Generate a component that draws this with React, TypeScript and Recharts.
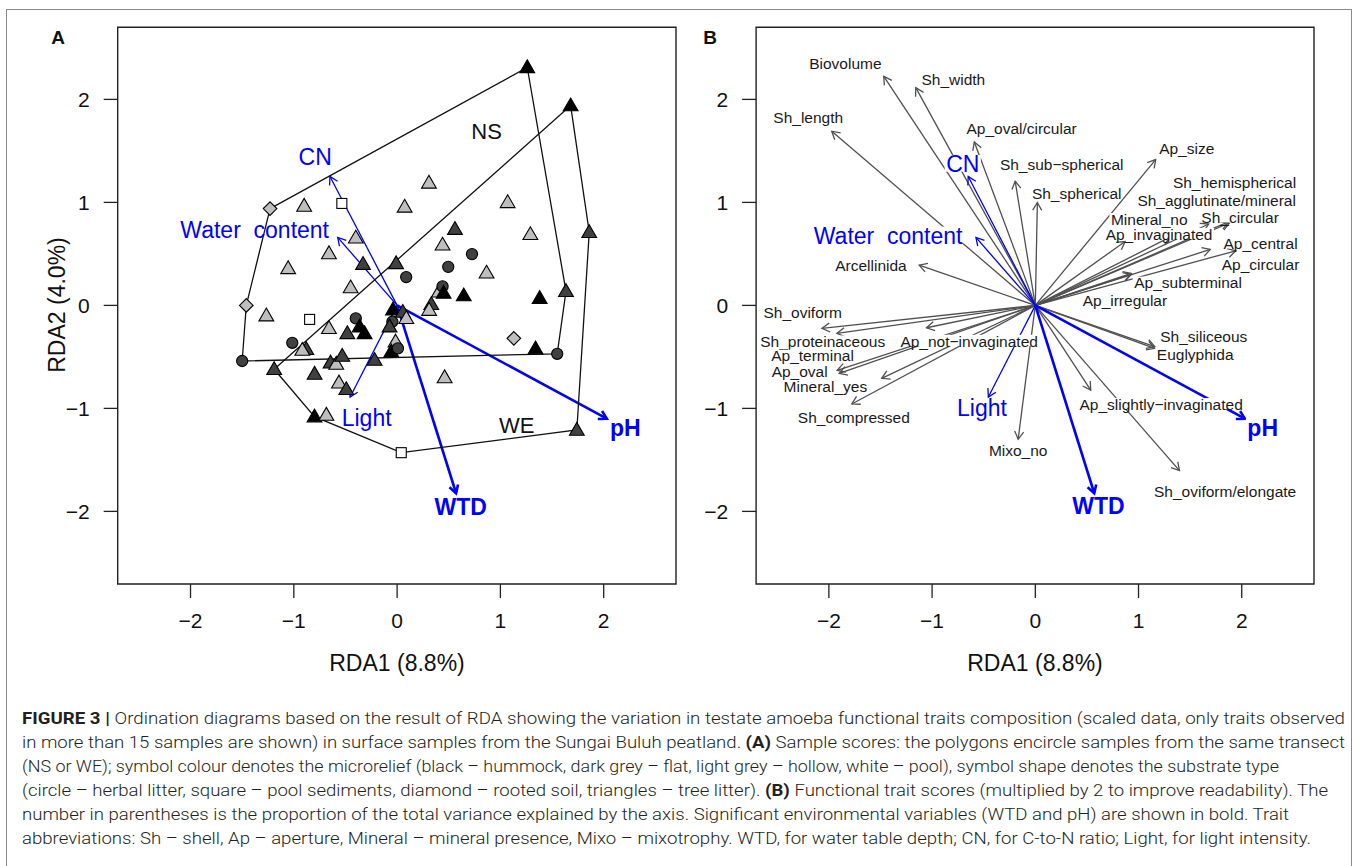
import React from 'react';
import { ScatterChart, Scatter, XAxis, YAxis, ReferenceLine, ReferenceArea } from 'recharts';

const FONT = '"Liberation Sans", Arial, Helvetica, sans-serif';
const AXIS_TICKS = [-2, -1, 0, 1, 2];
const AXIS_DOMAIN: [number, number] = [-2.705, 2.7];

// ---- panel A: sample scores (shape = substrate, relief = symbol colour) ----
const sampleX = [
  -1.23, 1.26, 1.635, 1.55, -1.5, -1.46, 1.68, 1.86, 1.74, 0.04, -0.8, -1.19,
  -0.9, -0.535, 0.073, -0.4, -0.66, -1.055, -0.33, -0.01, -0.45, 0.088, -1.266, -0.847,
  -0.4, -0.04, 0.055, -0.66, -0.482, -0.363, -0.315, -1.015, -0.879, -0.918, -0.644, -0.589,
  -0.531, -0.799, -0.218, -0.563, -0.492, -0.685, -0.046, 0.089, -0.073, -0.015, -0.056, 0.008,
  0.308, 1.07, 0.56, 0.44, 1.29, 0.725, 0.495, 0.866, 0.405, 0.44, 0.45, 0.645,
  1.38, 0.331, 0.31, 1.13, 1.34, 0.46,
];
const sampleY = [
  0.94, 2.31, 0.137, -0.47, -0.54, 0.0, 1.94, 0.71, -1.21, -1.43, -1.08, -0.62,
  0.965, 0.99, 0.956, 0.656, 0.504, 0.359, 0.4, 0.407, 0.173, 0.275, -0.1, -0.136,
  -0.126, -0.042, -0.065, -0.223, -0.272, -0.207, -0.272, -0.363, -0.427, -0.434, -0.557, -0.569,
  -0.492, -0.666, -0.531, -0.751, -0.815, -1.064, -0.159, -0.126, -0.207, -0.353, -0.45, -0.417,
  1.189, 1.0, 0.74, 0.588, 0.69, 0.498, 0.374, 0.316, 0.132, 0.185, 0.12, 0.095,
  0.07, 0.01, -0.046, -0.32, -0.42, -0.7,
];
const sampleShape = [
  'D', 'T', 'T', 'C', 'C', 'D', 'T', 'T', 'T', 'S', 'T', 'T',
  'T', 'S', 'T', 'T', 'T', 'T', 'T', 'T', 'T', 'C', 'T', 'S',
  'C', 'T', 'T', 'T', 'T', 'T', 'T', 'C', 'T', 'T', 'T', 'T',
  'T', 'T', 'T', 'T', 'T', 'T', 'C', 'T', 'T', 'T', 'T', 'C',
  'T', 'T', 'T', 'T', 'T', 'C', 'C', 'T', 'T', 'C', 'T', 'T',
  'T', 'T', 'T', 'D', 'T', 'T',
];
const sampleRelief = [
  'hollow', 'hummock', 'flat', 'flat', 'flat', 'hollow', 'hummock', 'flat', 'flat', 'pool', 'hummock', 'flat',
  'hollow', 'pool', 'hollow', 'hollow', 'hollow', 'hollow', 'flat', 'flat', 'hollow', 'flat', 'hollow', 'pool',
  'flat', 'hummock', 'flat', 'hollow', 'flat', 'hummock', 'hummock', 'flat', 'flat', 'hollow', 'flat', 'hollow',
  'flat', 'flat', 'flat', 'hollow', 'flat', 'hollow', 'flat', 'hollow', 'flat', 'hollow', 'hummock', 'flat',
  'hollow', 'hollow', 'flat', 'hollow', 'hollow', 'flat', 'flat', 'hollow', 'hollow', 'flat', 'hummock', 'hummock',
  'hummock', 'flat', 'hollow', 'hollow', 'hummock', 'hollow',
];

const nsHullX = [-1.23, 1.26, 1.635, 1.55, -1.5, -1.46, -1.23];
const nsHullY = [0.94, 2.31, 0.137, -0.47, -0.54, 0.0, 0.94];
const weHullX = [-1.19, 1.68, 1.86, 1.74, 0.04, -0.8, -1.19];
const weHullY = [-0.62, 1.94, 0.71, -1.21, -1.43, -1.08, -0.62];

const transectNames = ['NS', 'WE'];
const transectLabX = [0.866, 1.157];
const transectLabY = [1.684, -1.168];

// ---- environmental vectors ----
const envNames = ['CN', 'Water  content', 'Light', 'WTD', 'pH'];
const envX = [-0.65, -0.575, -0.455, 0.571, 2.03];
const envY = [1.252, 0.66, -0.89, -1.824, -1.1];
const envBold = [false, false, false, true, true];
const envLabAX = [-0.793, -1.379, -0.295, 0.615, 2.21];
const envLabAY = [1.441, 0.73, -1.093, -1.953, -1.19];
const envLabBX = [-0.703, -1.426, -0.517, 0.611, 2.203];
const envLabBY = [1.37, 0.675, -0.999, -1.947, -1.187];

// ---- panel B: trait scores ----
const traitNames = [
  'Biovolume', 'Sh_width', 'Sh_length', 'Ap_oval/circular', 'Sh_sub\u2212spherical', 'Sh_spherical',
  'Ap_size', 'Sh_hemispherical', 'Sh_agglutinate/mineral', 'Mineral_no', 'Sh_circular', 'Ap_invaginated',
  'Ap_central', 'Ap_circular', 'Ap_subterminal', 'Ap_irregular', 'Arcellinida', 'Sh_oviform',
  'Sh_proteinaceous', 'Ap_not\u2212invaginated', 'Ap_terminal', 'Ap_oval', 'Mineral_yes', 'Sh_compressed',
  'Mixo_no', 'Ap_slightly\u2212invaginated', 'Sh_oviform/elongate', 'Sh_siliceous', 'Euglyphida',
];
const traitX = [
  -1.468, -1.158, -1.972, -0.591, -0.195, 0.02,
  1.166, 1.88, 1.68, 1.3, 1.87, 0.87,
  1.695, 1.942, 0.93, 0.93, -1.125, -2.067,
  -1.922, -1.054, -1.92, -1.9, -1.488, -1.778,
  -0.166, 0.537, 1.397, 1.157, 1.157,
];
const traitY = [
  2.224, 2.114, 1.691, 1.587, 1.206, 0.999,
  1.416, 0.8, 0.79, 0.66, 0.81, 0.62,
  0.543, 0.53, 0.3, 0.31, 0.391, -0.223,
  -0.272, -0.217, -0.63, -0.66, -0.708, -0.957,
  -1.3, -0.822, -1.604, -0.4, -0.417,
];
const traitLabX = [
  -1.84, -0.794, -2.2, -0.133, 0.256, 0.401,
  1.467, 1.93, 1.757, 1.104, 1.984, 1.199,
  2.182, 2.182, 1.48, 0.868, -1.592, -2.254,
  -2.059, -0.641, -2.158, -2.283, -2.034, -1.758,
  -0.166, 1.219, 1.839, 1.632, 1.549,
];
const traitLabY = [
  2.347, 2.195, 1.823, 1.713, 1.37, 1.086,
  1.523, 1.189, 1.021, 0.837, 0.854, 0.692,
  0.601, 0.401, 0.219, 0.051, 0.384, -0.068,
  -0.352, -0.346, -0.49, -0.644, -0.79, -1.086,
  -1.41, -0.96, -1.808, -0.298, -0.472,
];

// ---- caption ----
const captionLines: [string, boolean][][] = [
  [['FIGURE 3 | ', true], ['Ordination diagrams based on the result of RDA showing the variation in testate amoeba functional traits composition (scaled data, only traits observed', false]],
  [['in more than 15 samples are shown) in surface samples from the Sungai Buluh peatland. ', false], ['(A)', true], [' Sample scores: the polygons encircle samples from the same transect', false]],
  [['(NS or WE); symbol colour denotes the microrelief (black \u2013 hummock, dark grey \u2013 flat, light grey \u2013 hollow, white \u2013 pool), symbol shape denotes the substrate type', false]],
  [['(circle \u2013 herbal litter, square \u2013 pool sediments, diamond \u2013 rooted soil, triangles \u2013 tree litter). ', false], ['(B)', true], [' Functional trait scores (multiplied by 2 to improve readability). The', false]],
  [['number in parentheses is the proportion of the total variance explained by the axis. Significant environmental variables (WTD and pH) are shown in bold. Trait', false]],
  [['abbreviations: Sh \u2013 shell, Ap \u2013 aperture, Mineral \u2013 mineral presence, Mixo \u2013 mixotrophy. WTD, for water table depth; CN, for C-to-N ratio; Light, for light intensity.', false]],
];
const captionEnds = [1345, 1345, 1279, 1328, 1289, 1311];

const reliefFill: Record<string, string> = { hummock: '#000000', flat: '#404040', hollow: '#bebebe', pool: '#ffffff' };
const BLUE = '#0000ff';
const TRAIT_GREY = '#505050';
const TRAIT_FONT_SIZE = 15.5;

const zip = (xs: number[], ys: number[]) => xs.map((x, i) => ({ x, y: ys[i] }));

const samples = sampleX.map((x, i) => ({ x, y: sampleY[i], shape: sampleShape[i], relief: sampleRelief[i] }));

let measureCtx: CanvasRenderingContext2D | null = null;
function textWidth(s: string, font: string) {
  if (!measureCtx) measureCtx = document.createElement('canvas').getContext('2d');
  if (!measureCtx) return s.length * 8;
  measureCtx.font = font;
  return measureCtx.measureText(s).width;
}

const fmtTick = (v: number) => String(v).replace('-', '\u2212');

function SampleMark(props: any) {
  const { cx, cy, payload } = props;
  const fill = reliefFill[payload.relief];
  const common = { fill, stroke: '#000', strokeWidth: 1.1 };
  if (payload.shape === 'C') return <circle cx={cx} cy={cy} r={5.6} {...common} />;
  if (payload.shape === 'S') return <rect x={cx - 5} y={cy - 5} width={10} height={10} {...common} />;
  if (payload.shape === 'D')
    return <polygon points={`${cx},${cy - 6.8} ${cx + 6.8},${cy} ${cx},${cy + 6.8} ${cx - 6.8},${cy}`} {...common} />;
  return <polygon points={`${cx},${cy - 7.6} ${cx + 7.4},${cy + 5.2} ${cx - 7.4},${cy + 5.2}`} {...common} />;
}

const noMark = () => <g />;

function arrowShape(color: string, width: number) {
  return (p: any) => {
    const { x1, y1, x2, y2 } = p;
    const ang = Math.atan2(y2 - y1, x2 - x1);
    const len = 9;
    const spread = Math.PI / 6;
    const ax = x2 - len * Math.cos(ang - spread);
    const ay = y2 - len * Math.sin(ang - spread);
    const bx = x2 - len * Math.cos(ang + spread);
    const by = y2 - len * Math.sin(ang + spread);
    return (
      <g>
        <line x1={x1} y1={y1} x2={x2} y2={y2} stroke={color} strokeWidth={width} />
        <polyline points={`${ax},${ay} ${x2},${y2} ${bx},${by}`} fill="none" stroke={color} strokeWidth={width} />
      </g>
    );
  };
}

function makeLabel(boxed: boolean) {
  return (props: any) => {
    const { cx, cy, payload } = props;
    const size = payload.size;
    const weight = payload.bold ? 'bold' : 'normal';
    const w = textWidth(payload.name, `${weight} ${size}px "Liberation Sans", Arial`);
    return (
      <g>
        {boxed && <rect x={cx - w / 2 - 1.5} y={cy - size * 0.4} width={w + 3} height={size * 0.72} fill="#fff" />}
        <text
          x={cx}
          y={cy}
          textAnchor="middle"
          dominantBaseline="central"
          fontFamily={FONT}
          fontSize={size}
          fontWeight={weight}
          fill={payload.color}
          style={{ whiteSpace: 'pre' }}
        >
          {payload.name}
        </text>
      </g>
    );
  };
}

const axisProps = {
  type: 'number' as const,
  domain: AXIS_DOMAIN,
  ticks: AXIS_TICKS,
  allowDataOverflow: true,
  axisLine: false,
  tickLine: { stroke: '#222', strokeWidth: 1.3 },
  tickSize: 14,
  tick: { fill: '#111', fontSize: 21, fontFamily: FONT },
  tickFormatter: fmtTick,
  interval: 0 as const,
};

function Frame() {
  return (
    <ReferenceArea
      x1={AXIS_DOMAIN[0]}
      x2={AXIS_DOMAIN[1]}
      y1={AXIS_DOMAIN[0]}
      y2={AXIS_DOMAIN[1]}
      fill="none"
      stroke="#222"
      strokeWidth={1.4}
      ifOverflow="visible"
    />
  );
}

function PanelA() {
  const envLabels = envNames.map((name, i) => ({
    x: envLabAX[i], y: envLabAY[i], name, bold: envBold[i], color: BLUE, size: 23,
  }));
  const transectLabels = transectNames.map((name, i) => ({
    x: transectLabX[i], y: transectLabY[i], name, bold: false, color: '#111', size: 22,
  }));
  return (
    <ScatterChart width={700} height={700} margin={{ top: 27.3, right: 24, bottom: 56, left: 57.7 }}>
      <XAxis dataKey="x" {...axisProps} tickMargin={15} height={60} />
      <YAxis dataKey="y" {...axisProps} tickMargin={14} width={60} />
      <Frame />
      <Scatter data={zip(nsHullX, nsHullY)} line={{ stroke: '#111', strokeWidth: 1.3 }} lineType="joint" shape={noMark} isAnimationActive={false} />
      <Scatter data={zip(weHullX, weHullY)} line={{ stroke: '#111', strokeWidth: 1.3 }} lineType="joint" shape={noMark} isAnimationActive={false} />
      <Scatter data={samples} shape={SampleMark} isAnimationActive={false} />
      {envNames.map((n, i) => (
        <ReferenceLine
          key={n}
          segment={[{ x: 0, y: 0 }, { x: envX[i], y: envY[i] }]}
          shape={arrowShape(BLUE, envBold[i] ? 2.6 : 1.3)}
        />
      ))}
      <Scatter data={transectLabels} shape={makeLabel(false)} isAnimationActive={false} />
      <Scatter data={envLabels} shape={makeLabel(false)} isAnimationActive={false} />
    </ScatterChart>
  );
}

function PanelB() {
  const traitLabels = traitNames.map((name, i) => ({
    x: traitLabX[i], y: traitLabY[i], name, bold: false, color: '#1a1a1a', size: TRAIT_FONT_SIZE,
  }));
  const envLabels = envNames.map((name, i) => ({
    x: envLabBX[i], y: envLabBY[i], name, bold: envBold[i], color: BLUE, size: 23,
  }));
  return (
    <ScatterChart width={668} height={700} margin={{ top: 27.3, right: 44, bottom: 56, left: 6.1 }}>
      <XAxis dataKey="x" {...axisProps} tickMargin={15} height={60} />
      <YAxis dataKey="y" {...axisProps} tickMargin={14} width={60} />
      <Frame />
      {traitNames.map((n, i) => (
        <ReferenceLine
          key={n}
          segment={[{ x: 0, y: 0 }, { x: traitX[i], y: traitY[i] }]}
          shape={arrowShape(TRAIT_GREY, 1.3)}
        />
      ))}
      {envNames.map((n, i) => (
        <ReferenceLine
          key={n}
          segment={[{ x: 0, y: 0 }, { x: envX[i], y: envY[i] }]}
          shape={arrowShape(BLUE, envBold[i] ? 2.6 : 1.3)}
        />
      ))}
      <Scatter data={traitLabels} shape={makeLabel(true)} isAnimationActive={false} />
      <Scatter data={envLabels} shape={makeLabel(true)} isAnimationActive={false} />
    </ScatterChart>
  );
}

const textStyle: React.CSSProperties = {
  position: 'absolute',
  fontFamily: FONT,
  color: '#111',
  whiteSpace: 'nowrap',
  transform: 'translate(-50%, -50%)',
  lineHeight: 1,
};

export default function App() {
  return (
    <div style={{ position: 'absolute', left: 0, top: 0, width: 1358, height: 866, background: '#fff', overflow: 'hidden' }}>
      <div style={{ position: 'absolute', left: 6, top: 9, width: 1344, height: 900, border: '1.5px solid #8a8a8a' }} />
      <div style={{ position: 'absolute', left: 0, top: 0 }}>
        <PanelA />
      </div>
      <div style={{ position: 'absolute', left: 690, top: 0 }}>
        <PanelB />
      </div>
      <div style={{ ...textStyle, left: 58, top: 37, fontSize: 19, fontWeight: 'bold' }}>A</div>
      <div style={{ ...textStyle, left: 710, top: 37, fontSize: 19, fontWeight: 'bold' }}>B</div>
      <div style={{ ...textStyle, left: 397, top: 663, fontSize: 23 }}>RDA1 (8.8%)</div>
      <div style={{ ...textStyle, left: 1035, top: 663, fontSize: 23 }}>RDA1 (8.8%)</div>
      <div style={{ ...textStyle, left: 57, top: 305, fontSize: 23, transform: 'translate(-50%, -50%) rotate(-90deg)' }}>
        RDA2 (4.0%)
      </div>
      <svg style={{ position: 'absolute', left: 0, top: 690 }} width={1358} height={176}>
        {captionLines.map((parts, i) => (
          <text
            key={i}
            x={22}
            y={34 + i * 24}
            textLength={captionEnds[i] - 22}
            lengthAdjust="spacingAndGlyphs"
            fontFamily="Roboto, sans-serif"
            fontSize={16.5}
            fill="#231f20"
            style={{ whiteSpace: 'pre' }}
          >
            {parts.map(([t, b], j) => (
              <tspan key={j} fontWeight={b ? 700 : 300}>
                {t}
              </tspan>
            ))}
          </text>
        ))}
      </svg>
    </div>
  );
}
